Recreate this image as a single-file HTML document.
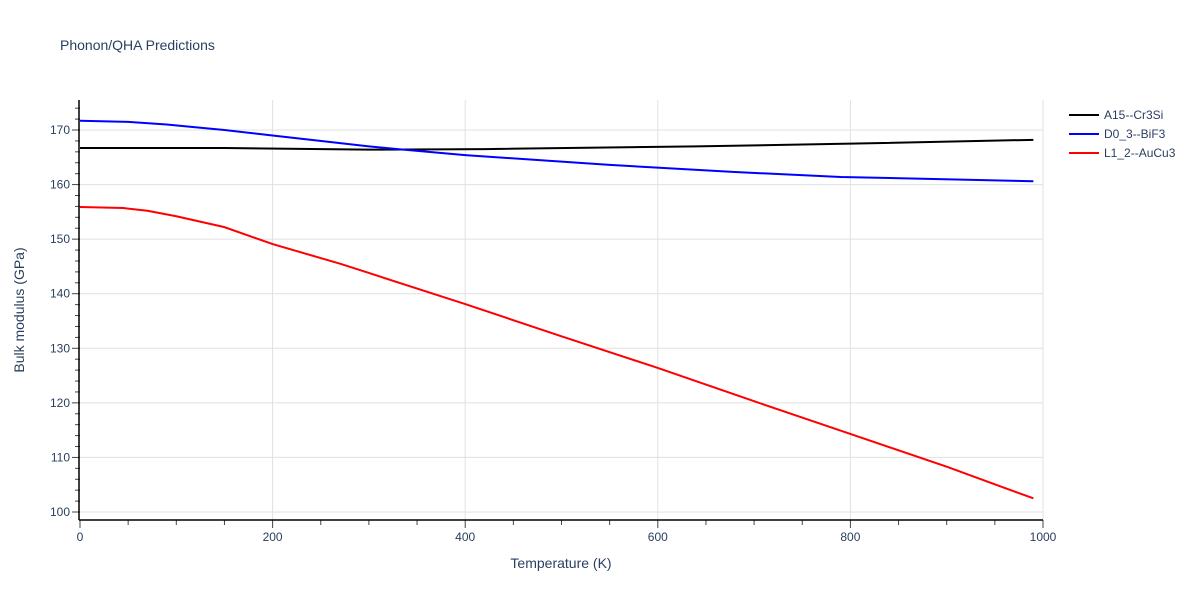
<!DOCTYPE html>
<html><head><meta charset="utf-8"><style>
body{margin:0;background:#fff;font-family:"Liberation Sans",sans-serif}
svg text{font-family:"Liberation Sans",sans-serif;fill:#2a3f5f}
</style></head><body>
<svg id="c" width="1200" height="600">
<text x="60" y="50" font-size="14">Phonon/QHA Predictions</text>
<g id="grid"></g><g id="axes"></g><g id="series"></g><g id="legend"></g>
<text x="561" y="568" font-size="14" text-anchor="middle">Temperature (K)</text>
<text transform="translate(24,310) rotate(-90)" font-size="14" text-anchor="middle">Bulk modulus (GPa)</text>
</svg>
<script>
const xTicks=[0,200,400,600,800,1000];
const yTicks=[100,110,120,130,140,150,160,170];
const seriesNames=["A15--Cr3Si","D0_3--BiF3","L1_2--AuCu3"];
const seriesColors=["#000000","#0000ff","#ff0000"];
const a15T=[0,150,300,420,640,800,990];
const a15V=[166.7,166.7,166.4,166.5,167.0,167.5,168.2];
const d03T=[0,50,90,150,200,300,330,400,550,680,790,990];
const d03V=[171.7,171.5,171.0,170.0,169.0,167.0,166.5,165.4,163.6,162.3,161.4,160.6];
const l12T=[0,45,70,100,150,200,270,300,400,500,600,700,800,900,990];
const l12V=[155.9,155.7,155.2,154.2,152.2,149.1,145.5,143.8,138.1,132.2,126.4,120.3,114.3,108.3,102.5];
const NS="http://www.w3.org/2000/svg";
const X=v=>80+v*0.963, Y=v=>512-(v-100)*5.457;
function mk(p,t,a){const e=document.createElementNS(NS,t);for(const k in a)e.setAttribute(k,a[k]);p.appendChild(e);return e;}
const grid=document.getElementById('grid'),axes=document.getElementById('axes'),ser=document.getElementById('series'),leg=document.getElementById('legend');
xTicks.forEach(t=>{if(t>0){const l=mk(grid,'line',{x1:X(t),x2:X(t),y1:100,y2:520,stroke:'#e0e0e0'});

}
const tx=mk(axes,'text',{x:X(t),y:541,'font-size':12,'text-anchor':'middle'});tx.textContent=t;


mk(axes,'line',{x1:X(t),x2:X(t),y1:520,y2:528,stroke:'#444'});});
for(let t=50;t<1000;t+=50){if(t%200)mk(axes,'line',{x1:X(t),x2:X(t),y1:520,y2:525,stroke:'#444'});}
yTicks.forEach(t=>{const l=mk(grid,'line',{x1:80,x2:1043,y1:Y(t),y2:Y(t),stroke:'#e0e0e0'});


const tx=mk(axes,'text',{x:70,y:Y(t)+4,'font-size':12,'text-anchor':'end'});tx.textContent=t;


mk(axes,'line',{x1:72,x2:80,y1:Y(t),y2:Y(t),stroke:'#444'});});
for(let t=100;t<=174;t+=2){if(t%10)mk(axes,'line',{x1:75,x2:80,y1:Y(t),y2:Y(t),stroke:'#444'});}
const xl=mk(axes,'line',{x1:79,x2:1043,y1:520,y2:520,stroke:'#000','stroke-width':1.5});


const yl=mk(axes,'line',{x1:79,x2:79,y1:100,y2:520,stroke:'#000','stroke-width':1.5});


[[a15T,a15V],[d03T,d03V],[l12T,l12V]].forEach((s,i)=>{
const p=mk(ser,'polyline',{points:s[0].map((t,j)=>X(t)+','+Y(s[1][j])).join(' '),fill:'none',stroke:seriesColors[i],'stroke-width':2});


const g=mk(leg,'g',{});


mk(g,'line',{x1:1069,x2:1099,y1:115+i*19,y2:115+i*19,stroke:seriesColors[i],'stroke-width':2});
const tx=mk(g,'text',{x:1104,y:119+i*19,'font-size':12});tx.textContent=seriesNames[i];});
</script>
</body></html>
